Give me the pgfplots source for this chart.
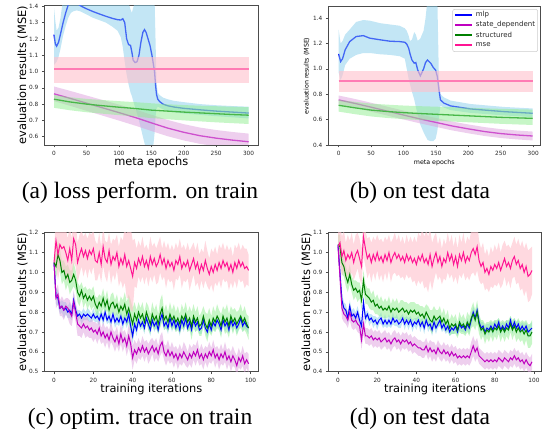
\documentclass[border=0pt]{standalone}
\usepackage{fontspec}
\setmainfont{Liberation Serif}
\newfontfamily\dv{DejaVu Sans}
\usepackage{pgfplots}
\usepackage{pgfplotstable}
\pgfplotsset{compat=1.18}

\definecolor{mlpc}{HTML}{0000FF}
\definecolor{mlpf}{HTML}{87CEEB}
\definecolor{sdc}{HTML}{BF00BF}
\definecolor{sdf}{HTML}{DDA0DD}
\definecolor{stc}{HTML}{008000}
\definecolor{stf}{HTML}{90EE90}
\definecolor{msec}{HTML}{FF1493}
\definecolor{msef}{HTML}{FFC0CB}

% stacked band: table, offset from previous band top to this band's bottom, band width, colour, opacity
\newcommand{\stackband}[5]{%
  \addplot[stack plots=y, draw=none] table[x=x, y expr={#2}]{#1};
  \addplot[stack plots=y, draw=none, fill=#4, fill opacity=#5] table[x=x, y expr={#3}]{#1} \closedcycle;
}

\pgfplotsset{
  mpl/.style={
    scale only axis,
    axis line style={black!70, line width=0.5pt},
    tick align=outside, tick pos=left,
    major tick length=2.5pt,
    every tick/.style={black!70, line width=0.4pt},
    ticklabel style={font=\dv\fontsize{5.8}{7}\selectfont, text=black!85},
    /pgf/number format/assume math mode=true,
    yticklabel style={/pgf/number format/fixed, /pgf/number format/fixed zerofill, /pgf/number format/precision=1},
    ylabel style={at={(axis description cs:-0.102,0.5)}, anchor=center},
    ylabel={evaluation results (MSE)},
  },
  big/.style={label style={font=\dv\fontsize{11.4}{13}\selectfont}},
  small/.style={label style={font=\dv\fontsize{6.3}{7.5}\selectfont}},
}

% ---------- (a) meta training, train data: mean curves ----------
\pgfplotstableread{
x m
0 1.226
2 1.17
4 1.155
7 1.18
10 1.23
14 1.30
18 1.36
22 1.41
26 1.44
30 1.45
35 1.43
40 1.405
50 1.385
60 1.368
70 1.353
80 1.339
90 1.326
98 1.318
103 1.316
106 1.324
109 1.30
112 1.20
115 1.165
118 1.16
120 1.12
122 1.07
125 1.055
128 1.06
131 1.10
134 1.18
137 1.24
139.5 1.257
142 1.24
145 1.20
148 1.16
151 1.10
153 1.05
155 1.00
156.5 0.92
158 0.86
160 0.83
163 0.815
168 0.80
175 0.79
185 0.782
200 0.774
225 0.765
250 0.757
275 0.751
300 0.745
}\tAmlp
\pgfplotstableread{
x m
0 0.863
25 0.835
50 0.806
75 0.777
100 0.748
125 0.718
150 0.685
175 0.653
200 0.627
225 0.606
250 0.591
275 0.579
300 0.569
}\tAsd
\pgfplotstableread{
x m
0 0.83
25 0.813
50 0.80
75 0.79
100 0.781
125 0.773
150 0.763
175 0.757
200 0.751
225 0.746
250 0.741
275 0.736
300 0.732
}\tAst

% ---------- (b) meta training, test data: mean curves ----------
\pgfplotstableread{
x m
0 1.118
3 1.057
6 1.08
10 1.15
17 1.215
27 1.255
38 1.262
48 1.242
64 1.229
79 1.218
94 1.215
102 1.21
105 1.195
108 1.163
110 1.12
113 1.07
116.5 1.045
119 1.05
122 0.99
126 0.945
131 1.00
134 1.05
137 1.07
142 1.045
146 1.01
149.6 0.99
152.2 0.939
154.7 0.834
157 0.755
162.4 0.73
172.7 0.708
203.5 0.684
255 0.663
299 0.65
}\tBmlp
\pgfplotstableread{
x m
0 0.755
25 0.728
50 0.698
75 0.667
100 0.636
125 0.606
150 0.578
175 0.55
200 0.527
225 0.506
250 0.49
275 0.479
299 0.471
}\tBsd
\pgfplotstableread{
x m
0 0.713
25 0.693
50 0.675
75 0.664
100 0.655
125 0.648
150 0.642
175 0.636
200 0.63
225 0.624
250 0.618
275 0.614
299 0.61
}\tBst

% ---------- (c),(d) optimisation traces: mean and spread per series ----------
% a = mlp, b = state_dependent, c = structured, d = mse
\pgfplotstableread{
x a sa b sb c sc d sd
0 1.05 0.02 1.05 0.03 1.05 0.03 1.05 0.06
1 0.88 0.04 0.87 0.05 1.03 0.06 1.16 0.12
2 0.87 0.04 0.89 0.05 1.09 0.07 1.09 0.13
3 0.82 0.03 0.82 0.04 1.06 0.06 1.14 0.12
4 0.83 0.03 0.83 0.05 1.00 0.06 1.12 0.11
5 0.81 0.04 0.81 0.05 1.01 0.05 1.13 0.12
6 0.82 0.03 0.83 0.04 0.97 0.06 1.10 0.12
7 0.80 0.03 0.82 0.05 0.99 0.05 1.06 0.11
8 0.81 0.04 0.80 0.06 0.95 0.06 1.12 0.12
9 0.79 0.03 0.78 0.05 0.96 0.05 1.06 0.11
10 0.86 0.04 0.85 0.06 0.99 0.06 1.17 0.12
11 0.81 0.03 0.80 0.05 0.96 0.05 1.14 0.11
12 0.78 0.03 0.74 0.06 0.90 0.05 1.05 0.10
13 0.79 0.02 0.73 0.05 0.88 0.05 1.09 0.10
14 0.77 0.03 0.72 0.05 0.91 0.04 1.12 0.09
15 0.79 0.03 0.74 0.04 0.87 0.05 1.08 0.10
16 0.78 0.02 0.72 0.05 0.89 0.04 1.11 0.09
17 0.79 0.03 0.73 0.05 0.86 0.05 1.07 0.10
18 0.78 0.03 0.71 0.04 0.88 0.04 1.11 0.09
19 0.77 0.02 0.72 0.05 0.86 0.05 1.09 0.10
20 0.79 0.03 0.70 0.05 0.88 0.05 1.12 0.09
21 0.77 0.02 0.71 0.04 0.84 0.04 1.06 0.10
22 0.78 0.03 0.69 0.05 0.82 0.05 1.05 0.09
23 0.76 0.03 0.72 0.05 0.85 0.04 1.10 0.10
24 0.79 0.02 0.68 0.04 0.83 0.05 1.04 0.09
25 0.76 0.03 0.70 0.05 0.87 0.05 1.13 0.10
26 0.80 0.03 0.67 0.05 0.83 0.04 1.07 0.09
27 0.76 0.02 0.69 0.04 0.86 0.05 1.05 0.10
28 0.78 0.03 0.66 0.05 0.81 0.04 1.11 0.09
29 0.75 0.03 0.70 0.05 0.84 0.05 1.04 0.10
30 0.79 0.02 0.67 0.04 0.85 0.05 1.08 0.09
31 0.75 0.03 0.65 0.05 0.82 0.04 1.06 0.10
32 0.77 0.03 0.68 0.05 0.84 0.05 1.10 0.09
33 0.75 0.02 0.64 0.04 0.80 0.04 1.03 0.10
34 0.78 0.03 0.69 0.05 0.83 0.05 1.07 0.11
35 0.74 0.03 0.65 0.05 0.81 0.05 1.04 0.12
36 0.77 0.02 0.67 0.04 0.84 0.06 1.09 0.14
37 0.75 0.03 0.63 0.05 0.79 0.06 1.03 0.16
38 0.79 0.04 0.68 0.06 0.82 0.07 1.06 0.19
39 0.73 0.04 0.64 0.06 0.78 0.08 1.02 0.21
40 0.68 0.04 0.57 0.06 0.74 0.08 0.98 0.18
41 0.74 0.03 0.61 0.05 0.79 0.06 1.05 0.12
42 0.71 0.03 0.59 0.05 0.76 0.05 1.02 0.10
43 0.76 0.03 0.62 0.05 0.80 0.05 1.07 0.09
44 0.73 0.02 0.60 0.04 0.77 0.05 1.04 0.09
45 0.75 0.03 0.63 0.05 0.79 0.06 1.08 0.10
46 0.72 0.03 0.60 0.05 0.75 0.05 1.03 0.09
47 0.77 0.02 0.62 0.04 0.80 0.05 1.06 0.08
48 0.74 0.03 0.59 0.05 0.77 0.06 1.02 0.09
49 0.71 0.03 0.61 0.05 0.74 0.05 1.08 0.10
50 0.76 0.02 0.63 0.04 0.79 0.06 1.04 0.09
51 0.73 0.03 0.60 0.05 0.76 0.05 1.07 0.08
52 0.75 0.03 0.62 0.05 0.78 0.06 1.03 0.09
53 0.71 0.02 0.59 0.04 0.74 0.05 1.05 0.10
54 0.76 0.03 0.63 0.05 0.79 0.07 1.09 0.09
55 0.79 0.03 0.65 0.05 0.82 0.07 1.04 0.08
56 0.73 0.02 0.60 0.04 0.76 0.05 1.07 0.09
57 0.75 0.03 0.58 0.05 0.78 0.06 1.02 0.10
58 0.72 0.03 0.61 0.05 0.75 0.05 1.06 0.09
59 0.77 0.02 0.58 0.04 0.79 0.06 1.03 0.08
60 0.73 0.03 0.60 0.05 0.76 0.05 1.05 0.09
61 0.76 0.03 0.57 0.05 0.78 0.06 1.01 0.10
62 0.72 0.02 0.59 0.04 0.75 0.05 1.06 0.09
63 0.75 0.03 0.56 0.05 0.77 0.06 1.04 0.08
64 0.71 0.03 0.59 0.05 0.74 0.05 1.08 0.09
65 0.76 0.02 0.57 0.04 0.78 0.06 1.02 0.10
66 0.73 0.03 0.60 0.05 0.76 0.05 1.05 0.09
67 0.77 0.03 0.58 0.05 0.79 0.06 1.03 0.08
68 0.72 0.02 0.56 0.04 0.75 0.05 1.06 0.09
69 0.75 0.03 0.59 0.05 0.77 0.06 1.01 0.10
70 0.71 0.03 0.57 0.05 0.73 0.07 1.04 0.09
71 0.76 0.02 0.60 0.04 0.78 0.06 1.07 0.08
72 0.73 0.03 0.58 0.05 0.75 0.05 1.02 0.09
73 0.75 0.03 0.61 0.05 0.77 0.06 1.05 0.10
74 0.71 0.02 0.57 0.04 0.73 0.05 1.00 0.09
75 0.72 0.03 0.59 0.05 0.74 0.06 1.04 0.08
76 0.76 0.03 0.56 0.05 0.78 0.05 1.01 0.09
77 0.72 0.02 0.59 0.04 0.74 0.06 1.06 0.10
78 0.70 0.03 0.57 0.05 0.72 0.07 1.02 0.09
79 0.74 0.03 0.60 0.05 0.76 0.06 0.99 0.08
80 0.71 0.02 0.58 0.04 0.73 0.05 1.03 0.09
81 0.75 0.03 0.61 0.05 0.77 0.06 1.00 0.10
82 0.73 0.03 0.57 0.05 0.75 0.05 1.04 0.09
83 0.76 0.02 0.59 0.04 0.78 0.06 1.01 0.08
84 0.74 0.03 0.56 0.05 0.76 0.05 1.05 0.09
85 0.71 0.03 0.59 0.05 0.73 0.06 1.02 0.10
86 0.76 0.02 0.57 0.04 0.78 0.05 1.06 0.09
87 0.73 0.03 0.60 0.05 0.75 0.06 1.03 0.08
88 0.75 0.03 0.56 0.05 0.77 0.07 1.05 0.09
89 0.71 0.02 0.58 0.04 0.73 0.06 1.01 0.10
90 0.76 0.03 0.55 0.05 0.78 0.05 1.04 0.09
91 0.73 0.03 0.58 0.05 0.75 0.06 1.00 0.08
92 0.75 0.02 0.56 0.04 0.77 0.05 1.05 0.09
93 0.72 0.03 0.53 0.05 0.74 0.06 1.02 0.10
94 0.74 0.03 0.57 0.05 0.76 0.05 1.06 0.09
95 0.77 0.02 0.55 0.04 0.78 0.06 1.03 0.08
96 0.73 0.03 0.58 0.05 0.75 0.05 1.05 0.09
97 0.75 0.03 0.54 0.05 0.77 0.06 1.02 0.10
98 0.73 0.02 0.56 0.04 0.74 0.05 1.03 0.09
99 0.72 0.03 0.54 0.05 0.72 0.06 1.01 0.08
}\tC
\pgfplotstableread{
x a sa b sb c sc d sd
0 1.04 0.02 1.03 0.03 1.04 0.05 1.03 0.09
1 0.90 0.04 0.88 0.05 1.03 0.06 1.05 0.10
2 0.76 0.04 0.72 0.05 0.95 0.06 0.98 0.10
3 0.72 0.03 0.69 0.04 0.93 0.05 1.01 0.10
4 0.71 0.03 0.68 0.04 0.88 0.05 0.96 0.09
5 0.67 0.03 0.66 0.04 0.85 0.05 0.99 0.10
6 0.73 0.03 0.70 0.04 0.89 0.05 0.97 0.09
7 0.68 0.03 0.66 0.04 0.84 0.04 1.00 0.10
8 0.69 0.03 0.65 0.04 0.81 0.05 0.95 0.09
9 0.67 0.03 0.66 0.04 0.82 0.04 0.99 0.10
10 0.70 0.03 0.64 0.04 0.80 0.05 1.01 0.09
11 0.66 0.03 0.63 0.04 0.81 0.04 0.97 0.10
12 0.63 0.03 0.56 0.05 0.76 0.05 0.93 0.09
13 0.75 0.03 0.64 0.05 0.86 0.05 1.08 0.10
14 0.67 0.03 0.58 0.04 0.79 0.05 1.02 0.09
15 0.69 0.02 0.58 0.04 0.78 0.04 0.97 0.10
16 0.66 0.03 0.57 0.04 0.77 0.05 0.99 0.09
17 0.67 0.02 0.58 0.04 0.75 0.04 0.95 0.10
18 0.65 0.03 0.56 0.04 0.76 0.05 0.99 0.09
19 0.66 0.02 0.57 0.04 0.73 0.04 0.96 0.10
20 0.64 0.03 0.56 0.04 0.74 0.05 1.00 0.09
21 0.66 0.02 0.57 0.04 0.72 0.04 0.96 0.10
22 0.67 0.03 0.55 0.04 0.73 0.05 0.98 0.09
23 0.64 0.02 0.56 0.04 0.71 0.04 0.95 0.10
24 0.66 0.03 0.57 0.04 0.72 0.05 0.99 0.09
25 0.64 0.02 0.55 0.04 0.71 0.04 0.96 0.10
26 0.66 0.03 0.56 0.04 0.73 0.05 1.00 0.09
27 0.64 0.02 0.54 0.04 0.70 0.04 0.95 0.10
28 0.67 0.03 0.56 0.04 0.72 0.05 0.98 0.09
29 0.65 0.02 0.57 0.04 0.71 0.04 1.00 0.10
30 0.66 0.03 0.55 0.04 0.72 0.05 0.97 0.09
31 0.64 0.02 0.56 0.04 0.70 0.04 0.99 0.10
32 0.65 0.03 0.54 0.04 0.71 0.05 0.96 0.09
33 0.67 0.02 0.56 0.04 0.72 0.04 0.98 0.10
34 0.64 0.03 0.55 0.04 0.70 0.05 0.95 0.09
35 0.66 0.02 0.56 0.04 0.71 0.04 0.99 0.10
36 0.64 0.03 0.54 0.04 0.69 0.05 0.96 0.09
37 0.66 0.02 0.55 0.04 0.71 0.04 0.98 0.10
38 0.63 0.03 0.53 0.04 0.70 0.05 0.95 0.10
39 0.65 0.02 0.54 0.04 0.71 0.04 0.97 0.11
40 0.64 0.03 0.53 0.04 0.69 0.05 0.94 0.11
41 0.66 0.02 0.52 0.04 0.70 0.04 0.98 0.12
42 0.63 0.03 0.52 0.04 0.68 0.05 0.96 0.12
43 0.65 0.02 0.51 0.04 0.69 0.04 0.99 0.13
44 0.62 0.03 0.51 0.04 0.67 0.05 0.95 0.13
45 0.66 0.02 0.53 0.04 0.70 0.04 0.97 0.14
46 0.63 0.03 0.50 0.04 0.68 0.05 0.94 0.14
47 0.64 0.02 0.52 0.04 0.66 0.05 0.99 0.13
48 0.61 0.03 0.50 0.05 0.65 0.06 0.93 0.12
49 0.65 0.03 0.51 0.04 0.68 0.05 0.97 0.11
50 0.62 0.03 0.49 0.04 0.66 0.05 1.00 0.10
51 0.64 0.02 0.52 0.04 0.67 0.04 0.95 0.09
52 0.66 0.03 0.50 0.04 0.68 0.05 0.98 0.10
53 0.62 0.02 0.49 0.04 0.65 0.04 0.93 0.09
54 0.64 0.03 0.51 0.04 0.67 0.05 0.97 0.10
55 0.61 0.02 0.49 0.04 0.64 0.04 0.95 0.09
56 0.63 0.03 0.50 0.04 0.66 0.05 1.00 0.10
57 0.60 0.02 0.48 0.04 0.62 0.04 0.96 0.09
58 0.62 0.03 0.50 0.04 0.64 0.05 0.99 0.10
59 0.61 0.02 0.48 0.04 0.63 0.04 0.94 0.09
60 0.63 0.03 0.49 0.04 0.64 0.05 0.98 0.10
61 0.60 0.02 0.47 0.04 0.61 0.04 0.93 0.09
62 0.64 0.03 0.48 0.04 0.65 0.05 0.99 0.10
63 0.62 0.02 0.47 0.04 0.63 0.04 0.96 0.09
64 0.63 0.03 0.48 0.04 0.64 0.05 1.00 0.10
65 0.61 0.02 0.47 0.04 0.62 0.04 0.95 0.09
66 0.64 0.03 0.48 0.04 0.65 0.05 0.98 0.10
67 0.62 0.03 0.47 0.04 0.63 0.05 0.96 0.10
68 0.66 0.03 0.50 0.05 0.67 0.05 1.00 0.11
69 0.70 0.03 0.53 0.05 0.69 0.06 1.02 0.12
70 0.67 0.03 0.50 0.05 0.66 0.05 0.99 0.11
71 0.71 0.03 0.52 0.05 0.70 0.06 1.03 0.12
72 0.65 0.03 0.48 0.04 0.64 0.05 0.96 0.10
73 0.62 0.03 0.47 0.04 0.61 0.05 0.93 0.09
74 0.63 0.02 0.46 0.04 0.62 0.04 0.95 0.10
75 0.60 0.03 0.45 0.04 0.59 0.05 0.90 0.09
76 0.62 0.02 0.46 0.04 0.61 0.04 0.92 0.10
77 0.61 0.03 0.45 0.04 0.60 0.05 0.89 0.09
78 0.63 0.02 0.46 0.04 0.62 0.04 0.93 0.10
79 0.61 0.03 0.45 0.04 0.60 0.05 0.91 0.09
80 0.64 0.02 0.46 0.04 0.62 0.04 0.94 0.10
81 0.62 0.03 0.45 0.04 0.61 0.05 0.92 0.09
82 0.65 0.02 0.47 0.04 0.63 0.04 0.95 0.10
83 0.61 0.03 0.46 0.04 0.60 0.05 0.91 0.09
84 0.63 0.02 0.45 0.04 0.62 0.04 0.94 0.10
85 0.61 0.03 0.47 0.04 0.60 0.05 0.97 0.09
86 0.64 0.02 0.46 0.04 0.62 0.04 0.93 0.10
87 0.62 0.03 0.45 0.04 0.61 0.05 0.95 0.09
88 0.66 0.02 0.47 0.04 0.64 0.04 0.92 0.10
89 0.62 0.03 0.46 0.04 0.61 0.05 0.96 0.09
90 0.65 0.02 0.48 0.04 0.63 0.04 0.98 0.10
91 0.62 0.03 0.46 0.04 0.60 0.05 0.94 0.10
92 0.64 0.02 0.47 0.04 0.62 0.05 0.96 0.11
93 0.61 0.03 0.45 0.04 0.60 0.05 0.92 0.11
94 0.63 0.02 0.46 0.04 0.61 0.05 0.94 0.12
95 0.61 0.03 0.44 0.04 0.59 0.06 0.90 0.12
96 0.63 0.02 0.46 0.04 0.61 0.05 0.93 0.12
97 0.60 0.03 0.44 0.04 0.58 0.06 0.88 0.13
98 0.61 0.03 0.43 0.04 0.58 0.06 0.89 0.13
99 0.62 0.03 0.45 0.04 0.60 0.06 0.91 0.12
}\tD

\begin{document}
\begin{tikzpicture}
\useasboundingbox (0pt,0pt) rectangle (542pt,437pt);

% (a)
\begin{axis}[mpl, big, at={(44.3pt,292pt)}, anchor=south west,
  width=214pt, height=139.5pt,
  xmin=-15, xmax=315, ymin=0.549, ymax=1.405,
  xtick={0,50,100,150,200,250,300},
  ytick={0.6,0.7,0.8,0.9,1.0,1.1,1.2,1.3,1.4},
  xlabel={meta epochs},
  xlabel style={at={(axis description cs:0.5,-0.122)}, anchor=center}]
  \addplot[draw=mlpc, line width=1.3pt] table[x=x, y=m]{\tAmlp};
  \addplot[fill=mlpf, fill opacity=0.5, draw=none] coordinates {
    (0,1.39)(2,1.31)(4,1.25)(7,1.27)(10,1.33)(14,1.45)(18,1.50)(22,1.52)(26,1.55)(30,1.55)
    (35,1.52)(40,1.50)(50,1.48)(60,1.47)(70,1.46)(80,1.45)(90,1.45)(98,1.45)(103,1.45)
    (106,1.46)(109,1.46)(112,1.45)(115,1.42)(118,1.38)(120,1.36)(122,1.39)(125,1.43)
    (128,1.46)(131,1.48)(134,1.50)(137,1.52)(139.5,1.53)(142,1.53)(145,1.52)(148,1.52)
    (151,1.50)(153,1.48)(155,1.45)(156.5,1.20)(158,0.93)(160,0.87)(163,0.855)(168,0.84)
    (175,0.83)(185,0.82)(200,0.812)(225,0.80)(250,0.793)(275,0.788)(300,0.784)
    (300,0.712)(275,0.719)(250,0.726)(225,0.734)(200,0.742)(185,0.75)(175,0.758)
    (168,0.768)(163,0.778)(160,0.785)(158,0.77)(156.5,0.72)(155,0.62)(153,0.54)
    (151,0.50)(148,0.48)(145,0.49)(142,0.52)(139.5,0.56)(137,0.60)(134,0.65)(131,0.70)
    (128,0.74)(125,0.78)(122,0.82)(120,0.85)(118,0.87)(115,0.92)(112,0.98)(109,1.06)
    (106,1.15)(103,1.21)(98,1.25)(90,1.275)(80,1.30)(70,1.315)(60,1.33)(50,1.35)
    (40,1.37)(35,1.375)(30,1.37)(26,1.36)(22,1.33)(18,1.28)(14,1.22)(10,1.14)(7,1.09)
    (4,1.06)(2,1.05)(0,1.04)};
  \addplot[draw=sdc, line width=1.3pt] table[x=x, y=m]{\tAsd};
  \addplot[fill=sdf, fill opacity=0.5, draw=none] coordinates {
    (0,0.908)(25,0.881)(50,0.853)(75,0.825)(100,0.797)(125,0.768)(150,0.735)(175,0.703)
    (200,0.677)(225,0.656)(250,0.641)(275,0.629)(300,0.619)
    (300,0.519)(275,0.529)(250,0.541)(225,0.556)(200,0.577)(175,0.603)(150,0.635)
    (125,0.668)(100,0.699)(75,0.729)(50,0.759)(25,0.789)(0,0.818)};
  \addplot[draw=stc, line width=1.3pt] table[x=x, y=m]{\tAst};
  \addplot[fill=stf, fill opacity=0.5, draw=none] coordinates {
    (0,0.856)(25,0.842)(50,0.832)(75,0.825)(100,0.818)(125,0.812)(150,0.805)(175,0.799)
    (200,0.794)(225,0.79)(250,0.787)(275,0.784)(300,0.781)
    (300,0.678)(275,0.683)(250,0.688)(225,0.694)(200,0.70)(175,0.707)(150,0.714)
    (125,0.724)(100,0.732)(75,0.741)(50,0.75)(25,0.762)(0,0.777)};
  \addplot[draw=msec, line width=1.3pt] coordinates {(0,1.0145)(300,1.0145)};
  \addplot[fill=msef, fill opacity=0.6, draw=none] coordinates {
    (0,1.092)(300,1.092)(300,0.928)(0,0.928)};
\end{axis}

% (b)
\begin{axis}[mpl, small, at={(328.3pt,292pt)}, anchor=south west,
  width=212pt, height=138.3pt,
  xmin=-16, xmax=311, ymin=0.4, ymax=1.49,
  xtick={0,50,100,150,200,250,300},
  ytick={0.4,0.6,0.8,1.0,1.2,1.4},
  xlabel={meta epochs},
  xlabel style={at={(axis description cs:0.5,-0.127)}, anchor=center}]
  \addplot[draw=mlpc, line width=1.3pt] table[x=x, y=m]{\tBmlp};
  \addplot[fill=mlpf, fill opacity=0.5, draw=none] coordinates {
    (0,1.31)(3,1.20)(6,1.22)(10,1.27)(17,1.31)(27,1.37)(38,1.385)(48,1.38)(64,1.36)
    (79,1.35)(94,1.34)(102,1.32)(105,1.30)(108,1.26)(110,1.22)(113,1.23)(116.5,1.29)
    (119,1.27)(122,1.22)(126,1.24)(131,1.30)(134,1.40)(137,1.55)(142,1.60)(146,1.60)
    (149.6,1.60)(152.2,1.55)(154.7,0.90)(157,0.80)(162.4,0.775)(172.7,0.75)(203.5,0.723)
    (255,0.70)(299,0.688)
    (299,0.62)(255,0.633)(203.5,0.653)(172.7,0.675)(162.4,0.695)(157,0.71)(154.7,0.62)
    (152.2,0.51)(149.6,0.45)(146,0.43)(142,0.43)(137,0.44)(134,0.47)(131,0.50)(126,0.56)
    (122,0.64)(119,0.70)(116.5,0.76)(113,0.82)(110,0.88)(108,0.92)(105,1.00)(102,1.08)
    (94,1.10)(79,1.11)(64,1.115)(48,1.125)(38,1.125)(27,1.11)(17,1.08)(10,1.03)(6,0.95)
    (3,0.91)(0,0.97)};
  \addplot[draw=sdc, line width=1.3pt] table[x=x, y=m]{\tBsd};
  \addplot[fill=sdf, fill opacity=0.5, draw=none] coordinates {
    (0,0.79)(25,0.763)(50,0.733)(75,0.702)(100,0.671)(125,0.641)(150,0.613)(175,0.585)
    (200,0.562)(225,0.541)(250,0.525)(275,0.514)(299,0.506)
    (299,0.436)(275,0.444)(250,0.455)(225,0.471)(200,0.492)(175,0.515)(150,0.543)
    (125,0.571)(100,0.601)(75,0.632)(50,0.663)(25,0.693)(0,0.72)};
  \addplot[draw=stc, line width=1.3pt] table[x=x, y=m]{\tBst};
  \addplot[fill=stf, fill opacity=0.5, draw=none] coordinates {
    (0,0.755)(25,0.740)(50,0.726)(75,0.718)(100,0.711)(125,0.706)(150,0.702)(175,0.698)
    (200,0.694)(225,0.689)(250,0.685)(275,0.682)(299,0.679)
    (299,0.558)(275,0.562)(250,0.567)(225,0.573)(200,0.579)(175,0.585)(150,0.591)
    (125,0.597)(100,0.604)(75,0.613)(50,0.625)(25,0.643)(0,0.663)};
  \addplot[draw=msec, line width=1.3pt] coordinates {(0,0.905)(299,0.905)};
  \addplot[fill=msef, fill opacity=0.6, draw=none] coordinates {
    (0,0.984)(299,0.984)(299,0.821)(0,0.821)};
\end{axis}

% legend box of (b)
\draw[black!20, fill=white, fill opacity=0.8, rounded corners=2pt, line width=0.5pt]
  (452.7pt,427.7pt) rectangle (537.7pt,385.3pt);
\begin{scope}[line width=1.3pt]
  \draw[mlpc] (455pt,422pt) -- (471.5pt,422pt);
  \draw[sdc]  (455pt,412pt) -- (471.5pt,412pt);
  \draw[stc]  (455pt,402pt) -- (471.5pt,402pt);
  \draw[msec] (455pt,392pt) -- (471.5pt,392pt);
\end{scope}
\begin{scope}[every node/.style={anchor=west, inner sep=0pt, text=black!85, font=\dv\fontsize{7}{8.5}\selectfont}]
  \node at (475.7pt,422pt) {mlp};
  \node at (475.7pt,412pt) {state\_dependent};
  \node at (475.7pt,402pt) {structured};
  \node at (475.7pt,392pt) {mse};
\end{scope}

% (c)
\begin{axis}[mpl, big, at={(44.3pt,65.3pt)}, anchor=south west,
  width=214pt, height=139pt,
  xmin=-4.95, xmax=103.95, ymin=0.5, ymax=1.2,
  xtick={0,20,40,60,80,100},
  ytick={0.5,0.6,0.7,0.8,0.9,1.0,1.1,1.2},
  xlabel={training iterations},
  xlabel style={at={(axis description cs:0.5,-0.128)}, anchor=center}]
  \stackband{\tC}{\thisrow{a}-\thisrow{sa}}{2*\thisrow{sa}}{mlpf}{0.5}
  \stackband{\tC}{\thisrow{b}-\thisrow{sb}-\thisrow{a}-\thisrow{sa}}{2*\thisrow{sb}}{sdf}{0.5}
  \stackband{\tC}{\thisrow{c}-\thisrow{sc}-\thisrow{b}-\thisrow{sb}}{2*\thisrow{sc}}{stf}{0.5}
  \stackband{\tC}{\thisrow{d}-\thisrow{sd}-\thisrow{c}-\thisrow{sc}}{2*\thisrow{sd}}{msef}{0.6}
  \addplot[draw=mlpc, line width=1pt] table[x=x, y=a]{\tC};
  \addplot[draw=sdc, line width=1pt] table[x=x, y=b]{\tC};
  \addplot[draw=stc, line width=1pt] table[x=x, y=c]{\tC};
  \addplot[draw=msec, line width=1pt] table[x=x, y=d]{\tC};
\end{axis}

% (d)
\begin{axis}[mpl, big, at={(328.3pt,65.3pt)}, anchor=south west,
  width=213.4pt, height=139pt,
  xmin=-4.95, xmax=103.95, ymin=0.4, ymax=1.1,
  xtick={0,20,40,60,80,100},
  ytick={0.4,0.5,0.6,0.7,0.8,0.9,1.0,1.1},
  xlabel={training iterations},
  xlabel style={at={(axis description cs:0.5,-0.128)}, anchor=center}]
  \stackband{\tD}{\thisrow{a}-\thisrow{sa}}{2*\thisrow{sa}}{mlpf}{0.5}
  \stackband{\tD}{\thisrow{b}-\thisrow{sb}-\thisrow{a}-\thisrow{sa}}{2*\thisrow{sb}}{sdf}{0.5}
  \stackband{\tD}{\thisrow{c}-\thisrow{sc}-\thisrow{b}-\thisrow{sb}}{2*\thisrow{sc}}{stf}{0.5}
  \stackband{\tD}{\thisrow{d}-\thisrow{sd}-\thisrow{c}-\thisrow{sc}}{2*\thisrow{sd}}{msef}{0.6}
  \addplot[draw=mlpc, line width=1pt] table[x=x, y=a]{\tD};
  \addplot[draw=sdc, line width=1pt] table[x=x, y=b]{\tD};
  \addplot[draw=stc, line width=1pt] table[x=x, y=c]{\tD};
  \addplot[draw=msec, line width=1pt] table[x=x, y=d]{\tD};
\end{axis}

% sub-captions
\node[anchor=base, font=\fontsize{23.5}{28}\selectfont] at (140pt,238pt) {(a) loss perform. on train};
\node[anchor=base, font=\fontsize{23.5}{28}\selectfont] at (420pt,238pt) {(b) on test data};
\node[anchor=base, font=\fontsize{23.5}{28}\selectfont] at (140pt,12.7pt) {(c) optim. trace on train};
\node[anchor=base, font=\fontsize{23.5}{28}\selectfont] at (420pt,12.7pt) {(d) on test data};
\end{tikzpicture}
\end{document}
